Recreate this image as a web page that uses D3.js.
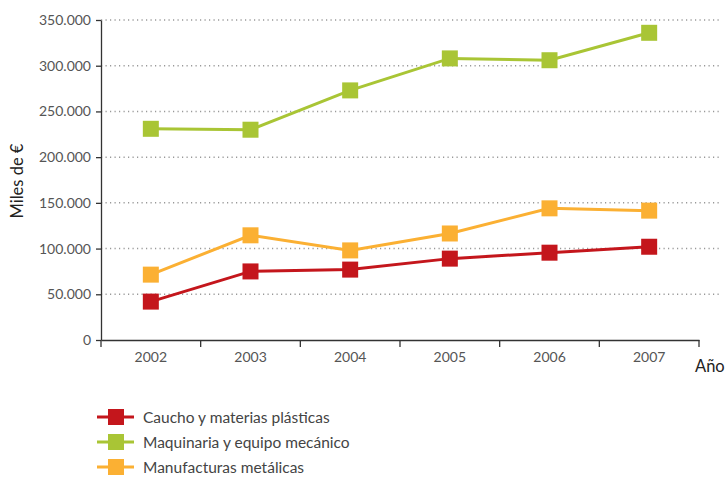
<!DOCTYPE html>
<html>
<head>
<meta charset="utf-8">
<script src="https://cdn.jsdelivr.net/npm/d3@7"></script>
<style>
  html, body { margin: 0; padding: 0; background: #fff; }
  svg { display: block; font-family: Lato, "Open Sans", sans-serif; }
</style>
</head>
<body>
<svg id="chart" width="728" height="481"></svg>
<script>
const years = ["2002", "2003", "2004", "2005", "2006", "2007"];
const caucho = [42000, 75000, 77000, 89000, 95500, 102000];
const maquinaria = [231000, 230000, 273000, 308000, 306000, 336000];
const manufacturas = [71500, 114500, 98000, 116500, 144000, 141500];
const yTicks = [0, 50000, 100000, 150000, 200000, 250000, 300000, 350000];
const seriesNames = ["Caucho y materias plásticas", "Maquinaria y equipo mecánico", "Manufacturas metálicas"];
const seriesColors = ["#c4161c", "#a9c535", "#fbb033"];
const seriesValues = [caucho, maquinaria, manufacturas];

const svg = d3.select("#chart");
const x = d3.scaleBand().domain(years).range([101, 699]).padding(0);
const y = d3.scaleLinear().domain([0, 350000]).range([340, 20]);
const locale = d3.formatLocale({decimal: ",", thousands: ".", grouping: [3], currency: ["", "€"]});
const fmt = locale.format(",");

// grid
svg.append("g").selectAll("line").data(yTicks.filter(d => d > 0)).join("line")
  .attr("x1", 101).attr("x2", 720)
  .attr("y1", d => y(d)).attr("y2", d => y(d))
  .attr("stroke", "#999").attr("stroke-width", 1.5).attr("stroke-dasharray", "1.2,3.3");

// y axis
const yAxis = svg.append("g").attr("transform", "translate(101,0)")
  .call(d3.axisLeft(y).tickValues(yTicks).tickFormat(fmt).tickSize(5).tickSizeOuter(0).tickPadding(5));
yAxis.select(".domain").attr("stroke", "#333").attr("stroke-width", 1.3);
yAxis.selectAll(".tick line").attr("stroke", "#333").attr("stroke-width", 1.3);
yAxis.selectAll(".tick text").attr("font-size", 14).attr("fill", "#555").attr("font-family", "Lato, sans-serif");

// x axis
const xAxis = svg.append("g").attr("transform", "translate(0,340)")
  .call(d3.axisBottom(x).tickSize(0).tickSizeOuter(0).tickPadding(12));
xAxis.select(".domain").attr("stroke", "#333").attr("stroke-width", 1.3);
xAxis.selectAll(".tick text").attr("font-size", 14).attr("fill", "#555").attr("font-family", "Lato, sans-serif");
const bounds = years.map(d => x(d)).concat([x(years[years.length - 1]) + x.bandwidth()]);
xAxis.append("g").selectAll("line").data(bounds).join("line")
  .attr("x1", d => d).attr("x2", d => d).attr("y1", 0).attr("y2", 7)
  .attr("stroke", "#333").attr("stroke-width", 1.3);

// axis titles
svg.append("text").attr("transform", "translate(23,181) rotate(-90)")
  .attr("text-anchor", "middle").attr("font-size", 16.5).attr("fill", "#222").text("Miles de €");
svg.append("text").attr("x", 695).attr("y", 372)
  .attr("font-size", 16.5).attr("fill", "#222").text("Año");

// series
const line = d3.line().x((d, i) => x(years[i]) + x.bandwidth() / 2).y(d => y(d));
const order = [1, 2, 0];
order.forEach(k => {
  svg.append("path").datum(seriesValues[k]).attr("d", line)
    .attr("fill", "none").attr("stroke", seriesColors[k]).attr("stroke-width", 3);
});
order.forEach(k => {
  svg.append("g").selectAll("rect").data(seriesValues[k]).join("rect")
    .attr("x", (d, i) => x(years[i]) + x.bandwidth() / 2 - 8)
    .attr("y", d => y(d) - 8)
    .attr("width", 16).attr("height", 16)
    .attr("fill", seriesColors[k]);
});

// legend
const legendY = [417, 442, 467];
const lg = svg.append("g");
seriesNames.forEach((name, k) => {
  const g = lg.append("g").attr("transform", `translate(0,${legendY[k]})`);
  g.append("line").attr("x1", 97).attr("x2", 134).attr("y1", 0).attr("y2", 0)
    .attr("stroke", seriesColors[k]).attr("stroke-width", 3);
  g.append("rect").attr("x", 108).attr("y", -8).attr("width", 16).attr("height", 16)
    .attr("fill", seriesColors[k]);
  g.append("text").attr("x", 143).attr("y", 5.5).attr("font-size", 15.5).attr("fill", "#444").text(name);
});
</script>
</body>
</html>
